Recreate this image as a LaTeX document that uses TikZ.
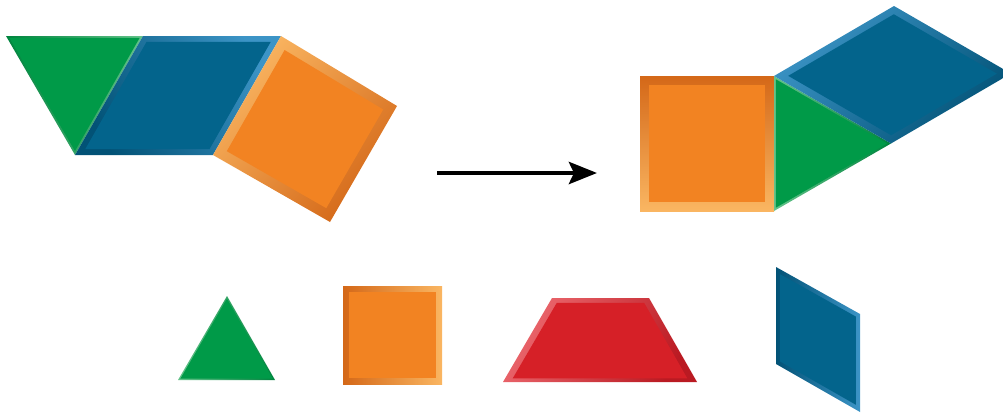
\documentclass[tikz,border=0pt]{standalone}
\usetikzlibrary{arrows.meta,calc}

\definecolor{pgreen}{RGB}{0,154,72}
\definecolor{pgreenlight}{RGB}{100,195,138}
\definecolor{pgreendark}{RGB}{0,132,62}
\definecolor{pblue}{RGB}{3,100,140}
\definecolor{pbluelight}{RGB}{60,148,198}
\definecolor{pbluedark}{RGB}{2,82,118}
\definecolor{porange}{RGB}{242,131,34}
\definecolor{porangelight}{RGB}{250,182,98}
\definecolor{porangedark}{RGB}{212,104,24}
\definecolor{pred}{RGB}{214,32,39}
\definecolor{predlight}{RGB}{236,104,110}
\definecolor{preddark}{RGB}{186,26,34}

\begin{document}
\begin{tikzpicture}[x=1pt,y=-1pt,
greenface/.style={fill=pgreen},
blueface/.style={fill=pblue},
orangeface/.style={fill=porange},
redface/.style={fill=pred},
greenedge/.style={top color=pgreenlight, bottom color=pgreendark},
blueedge/.style={top color=pbluelight, bottom color=pbluedark},
orangeedge/.style={top color=porangelight, bottom color=porangedark},
rededge/.style={top color=predlight, bottom color=preddark},
arrow/.style={line width=4.8pt, -{Stealth[length=28pt,width=22pt,inset=5pt]}}
]
  \clip (0,0) rectangle (1003,415);

  % before
  \coordinate (A) at (6,36);
  \coordinate (B) at (143,36);
  \coordinate (C) at (75,155);
  \coordinate (D) at (281,36);
  \coordinate (E) at (213,155);
  \coordinate (F) at (397,106);
  \coordinate (G) at (330,222);
  \coordinate (t1) at (74.7,75.7);
  \coordinate (p1) at (178,95.5);
  \coordinate (s1) at (305,129.5);

  \shade[greenedge, shading angle=-90] (A) -- (B) -- (C) -- cycle;
  \fill[greenface] ($(A)!0.05!(t1)$) -- ($(B)!0.05!(t1)$) -- ($(C)!0.05!(t1)$) -- cycle;

  \shade[blueedge, shading angle=-60] (B) -- (D) -- (E) -- (C) -- cycle;
  \fill[blueface] ($(B)!0.1!(p1)$) -- ($(D)!0.1!(p1)$) -- ($(E)!0.1!(p1)$) -- ($(C)!0.1!(p1)$) -- cycle;

  \shade[orangeedge, shading angle=45] (D) -- (F) -- (G) -- (E) -- cycle;
  \fill[orangeface] ($(D)!0.15!(s1)$) -- ($(F)!0.15!(s1)$) -- ($(G)!0.15!(s1)$) -- ($(E)!0.15!(s1)$) -- cycle;

  % after
  \coordinate (a) at (640,76);
  \coordinate (b) at (774,76);
  \coordinate (c) at (774,211);
  \coordinate (d) at (640,211);
  \coordinate (e) at (891,143.5);
  \coordinate (f) at (894,6);
  \coordinate (g) at (1011,73.5);
  \coordinate (s2) at (707,143.5);
  \coordinate (t2) at (813,143.5);
  \coordinate (p2) at (892.5,74.8);

  \shade[orangeedge, shading angle=180] (a) -- (b) -- (c) -- (d) -- cycle;
  \fill[orangeface] ($(a)!0.13!(s2)$) -- ($(b)!0.13!(s2)$) -- ($(c)!0.13!(s2)$) -- ($(d)!0.13!(s2)$) -- cycle;

  \shade[greenedge, shading angle=90] (b) -- (e) -- (c) -- cycle;
  \fill[greenface] ($(b)!0.05!(t2)$) -- ($(e)!0.05!(t2)$) -- ($(c)!0.05!(t2)$) -- cycle;

  \shade[blueedge, shading angle=45] (b) -- (f) -- (g) -- (e) -- cycle;
  \fill[blueface] ($(b)!0.12!(p2)$) -- ($(f)!0.12!(p2)$) -- ($(g)!0.12!(p2)$) -- ($(e)!0.12!(p2)$) -- cycle;

  % arrow
  \coordinate (from) at (437,173);
  \coordinate (to) at (597,173);
  \draw[arrow] (from) -- (to);

  % single pieces
  \coordinate (h1) at (178,380);
  \coordinate (h2) at (275,380);
  \coordinate (h3) at (227,296);
  \coordinate (t3) at (226.7,352);
  \shade[greenedge, shading angle=90] (h1) -- (h2) -- (h3) -- cycle;
  \fill[greenface] ($(h1)!0.05!(t3)$) -- ($(h2)!0.05!(t3)$) -- ($(h3)!0.05!(t3)$) -- cycle;

  \coordinate (k1) at (343,286);
  \coordinate (k2) at (442,286);
  \coordinate (k3) at (442,384);
  \coordinate (k4) at (343,384);
  \coordinate (s3) at (392.5,335);
  \shade[orangeedge, shading angle=-90] (k1) -- (k2) -- (k3) -- (k4) -- cycle;
  \fill[orangeface] ($(k1)!0.12!(s3)$) -- ($(k2)!0.12!(s3)$) -- ($(k3)!0.12!(s3)$) -- ($(k4)!0.12!(s3)$) -- cycle;

  \coordinate (m1) at (503,382);
  \coordinate (m2) at (552,298);
  \coordinate (m3) at (649,298);
  \coordinate (m4) at (697,382);
  \coordinate (q1) at (600,346);
  \shade[rededge, shading angle=60] (m1) -- (m2) -- (m3) -- (m4) -- cycle;
  \fill[redface] ($(m1)!0.1!(q1)$) -- ($(m2)!0.1!(q1)$) -- ($(m3)!0.1!(q1)$) -- ($(m4)!0.1!(q1)$) -- cycle;

  \coordinate (n1) at (776,267);
  \coordinate (n2) at (860,314);
  \coordinate (n3) at (860,412);
  \coordinate (n4) at (776,364);
  \coordinate (p3) at (818,339.5);
  \shade[blueedge, shading angle=-90] (n1) -- (n2) -- (n3) -- (n4) -- cycle;
  \fill[blueface] ($(n1)!0.1!(p3)$) -- ($(n2)!0.1!(p3)$) -- ($(n3)!0.1!(p3)$) -- ($(n4)!0.1!(p3)$) -- cycle;
\end{tikzpicture}
\end{document}
